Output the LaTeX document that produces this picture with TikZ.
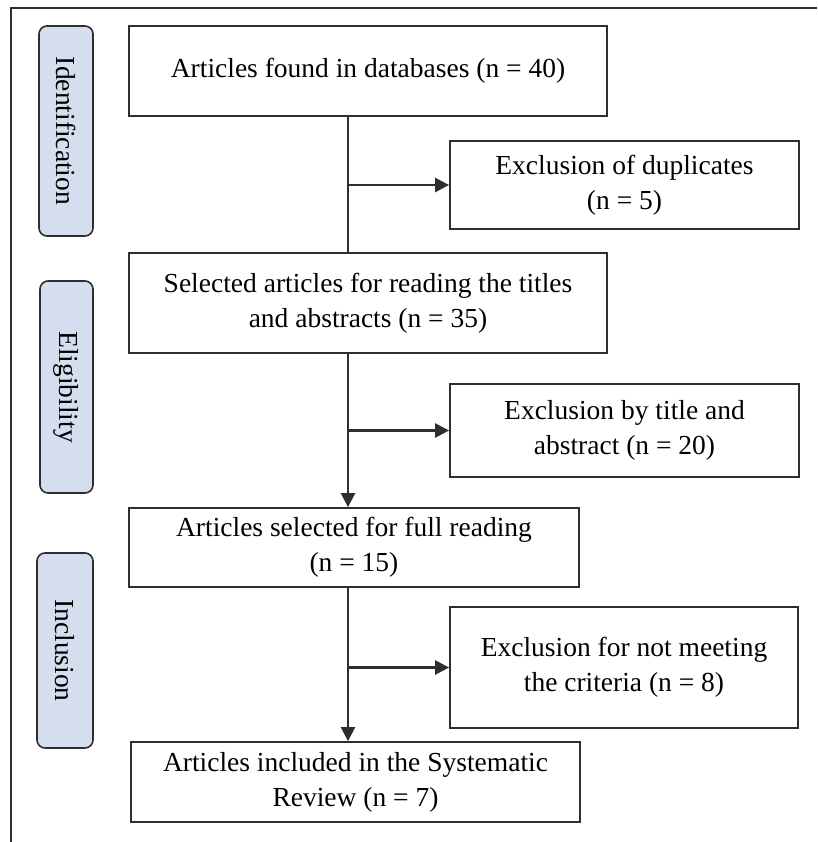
\documentclass[tikz,border=0pt]{standalone}
\usepackage{fontspec}
\setmainfont{Liberation Serif}
\usepackage{xcolor}
\usetikzlibrary{arrows.meta}
\definecolor{stagefill}{HTML}{D5DEEF}
\definecolor{edge}{HTML}{2E2E2E}

\tikzset{
    flowbox/.style={draw=edge, line width=1.8pt, rectangle, align=center, inner sep=0pt},
    stagebox/.style={draw=edge, line width=1.6pt, fill=stagefill, rounded corners=8pt, inner sep=0pt},
    flowline/.style={draw=edge, line width=2.5pt},
    flowarrow/.style={flowline, -{Triangle[length=14pt, width=14pt]}}
}

\begin{document}
\begin{tikzpicture}[x=1pt, y=-1pt, font=\fontsize{27.5}{35}\selectfont]
                \useasboundingbox (0,0) rectangle (817,842);

                % frame
                \draw[draw=edge, line width=1.8pt] (11,842) -- (11,8) -- (817,8);

                % stages
                \node[stagebox, minimum width=54pt, minimum height=210pt] (ident) at (66, 131) {};
                \node[rotate=-90] at (ident) {Identification};
                \node[stagebox, minimum width=53pt, minimum height=212pt] (elig) at (66.5, 387) {};
                \node[rotate=-90] at (elig) {Eligibility};
                \node[stagebox, minimum width=56pt, minimum height=195pt] (incl) at (65, 650.5) {};
                \node[rotate=-90] at (incl) {Inclusion};

                % main column
                \node[flowbox, minimum width=478pt, minimum height=90pt] (found) at (368, 71) {Articles found in databases (n = 40)};
                \node[flowbox, minimum width=478pt, minimum height=100pt] (screen) at (368, 303) {Selected articles for reading the titles\\and abstracts (n = 35)};
                \node[flowbox, minimum width=450pt, minimum height=79pt] (full) at (354, 547.5) {Articles selected for full reading\\(n = 15)};
                \node[flowbox, minimum width=449pt, minimum height=80pt] (incl5) at (355.5, 782) {Articles included in the Systematic\\Review (n = 7)};

                % exclusions
                \node[flowbox, minimum width=349pt, minimum height=88pt] (dup) at (624.5, 185) {Exclusion of duplicates\\(n = 5)};
                \node[flowbox, minimum width=349pt, minimum height=93pt] (title) at (624.5, 430.5) {Exclusion by title and\\abstract (n = 20)};
                \node[flowbox, minimum width=348pt, minimum height=121pt] (crit) at (624, 667.5) {Exclusion for not meeting\\the criteria (n = 8)};

                % connectors
                \coordinate (trunk) at (348, 0);
                \draw[flowline] (found.south -| trunk) -- (screen.north -| trunk);
                \draw[flowarrow] (screen.south -| trunk) -- (full.north -| trunk);
                \draw[flowarrow] (full.south -| trunk) -- (incl5.north -| trunk);
                \draw[flowarrow] (dup.west -| trunk) -- (dup.west);
                \draw[flowarrow] (title.west -| trunk) -- (title.west);
                \draw[flowarrow] (crit.west -| trunk) -- (crit.west);
            \end{tikzpicture}
\end{document}
